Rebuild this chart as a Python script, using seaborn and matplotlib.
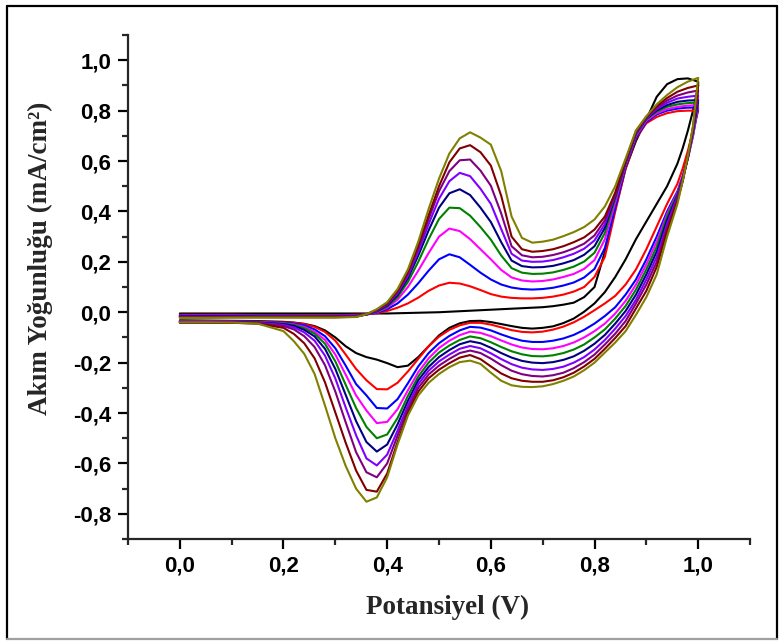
import pandas as pd
import matplotlib
matplotlib.use("Agg")
import matplotlib.pyplot as plt
import seaborn as sns
from matplotlib.ticker import MultipleLocator, FuncFormatter
from matplotlib.lines import Line2D

# potential grid for the anodic (forward) and cathodic (reverse) sweeps, V
V_FWD = [0.00, 0.05, 0.10, 0.15, 0.20, 0.25, 0.30, 0.34, 0.36, 0.38, 0.40,
         0.42, 0.44, 0.46, 0.48, 0.50, 0.52, 0.54, 0.56, 0.58, 0.60, 0.62,
         0.64, 0.66, 0.68, 0.70, 0.72, 0.74, 0.76, 0.78, 0.80, 0.82, 0.84,
         0.86, 0.88, 0.90, 0.92, 0.94, 0.96, 0.98, 1.00]
V_REV = [1.00, 0.99, 0.98, 0.97, 0.96, 0.94, 0.92, 0.90, 0.88, 0.86, 0.84,
         0.82, 0.80, 0.78, 0.76, 0.74, 0.72, 0.70, 0.68, 0.66, 0.64, 0.62,
         0.60, 0.58, 0.56, 0.54, 0.52, 0.50, 0.48, 0.46, 0.44, 0.42, 0.40,
         0.38, 0.36, 0.34, 0.32, 0.30, 0.28, 0.26, 0.24, 0.22, 0.20, 0.15,
         0.10, 0.05, 0.00]

# current density, mA/cm2, one list per cycle
black_fwd = [-0.005, -0.005, -0.005, -0.005, -0.005, -0.005, -0.005, -0.005, -0.005, -0.005, -0.005,
             -0.004, -0.003, -0.002, -0.001, 0.000, 0.002, 0.004, 0.006, 0.008, 0.010, 0.012,
             0.014, 0.016, 0.018, 0.020, 0.024, 0.030, 0.038, 0.060, 0.100, 0.240, 0.410,
             0.570, 0.680, 0.765, 0.855, 0.905, 0.925, 0.928, 0.915]
red_fwd = [-0.010, -0.010, -0.010, -0.011, -0.011, -0.012, -0.012, -0.010, -0.008, -0.004, 0.005,
           0.018, 0.035, 0.058, 0.085, 0.106, 0.117, 0.114, 0.103, 0.088, 0.072, 0.062,
           0.057, 0.055, 0.055, 0.057, 0.062, 0.070, 0.082, 0.100, 0.140, 0.220, 0.400,
           0.570, 0.690, 0.750, 0.775, 0.790, 0.798, 0.800, 0.800]
blue_fwd = [-0.012, -0.012, -0.012, -0.013, -0.013, -0.014, -0.014, -0.012, -0.009, -0.002, 0.012,
            0.035, 0.070, 0.115, 0.165, 0.210, 0.230, 0.218, 0.188, 0.157, 0.130, 0.110,
            0.098, 0.092, 0.090, 0.092, 0.097, 0.106, 0.118, 0.138, 0.172, 0.255, 0.415,
            0.578, 0.694, 0.755, 0.785, 0.800, 0.808, 0.812, 0.812]
magenta_fwd = [-0.013, -0.013, -0.013, -0.014, -0.014, -0.015, -0.015, -0.013, -0.009, 0.000, 0.018,
               0.050, 0.100, 0.165, 0.235, 0.300, 0.332, 0.322, 0.290, 0.250, 0.210, 0.168,
               0.138, 0.126, 0.122, 0.124, 0.130, 0.140, 0.152, 0.172, 0.207, 0.290, 0.435,
               0.585, 0.700, 0.760, 0.790, 0.806, 0.815, 0.820, 0.822]
green_fwd = [-0.015, -0.015, -0.015, -0.015, -0.016, -0.016, -0.016, -0.014, -0.009, 0.002, 0.022,
             0.060, 0.120, 0.200, 0.290, 0.370, 0.415, 0.413, 0.383, 0.338, 0.288, 0.225,
             0.175, 0.157, 0.152, 0.153, 0.158, 0.168, 0.181, 0.201, 0.236, 0.315, 0.450,
             0.590, 0.705, 0.765, 0.796, 0.815, 0.825, 0.830, 0.832]
navy_fwd = [-0.016, -0.016, -0.016, -0.017, -0.017, -0.017, -0.017, -0.015, -0.009, 0.004, 0.026,
            0.068, 0.135, 0.225, 0.325, 0.415, 0.472, 0.488, 0.465, 0.415, 0.358, 0.278,
            0.205, 0.183, 0.178, 0.179, 0.184, 0.194, 0.207, 0.228, 0.262, 0.335, 0.460,
            0.595, 0.710, 0.768, 0.801, 0.822, 0.835, 0.840, 0.842]
violet_fwd = [-0.018, -0.018, -0.018, -0.018, -0.018, -0.018, -0.018, -0.016, -0.009, 0.006, 0.030,
              0.075, 0.145, 0.240, 0.350, 0.450, 0.520, 0.553, 0.540, 0.490, 0.430, 0.330,
              0.232, 0.205, 0.200, 0.201, 0.207, 0.218, 0.232, 0.252, 0.285, 0.350, 0.465,
              0.598, 0.712, 0.770, 0.806, 0.831, 0.848, 0.855, 0.860]
purple_fwd = [-0.019, -0.019, -0.019, -0.019, -0.019, -0.019, -0.019, -0.017, -0.009, 0.008, 0.033,
              0.080, 0.155, 0.255, 0.370, 0.480, 0.560, 0.603, 0.606, 0.562, 0.502, 0.392,
              0.262, 0.226, 0.218, 0.220, 0.227, 0.238, 0.253, 0.272, 0.305, 0.365, 0.470,
              0.600, 0.715, 0.772, 0.812, 0.840, 0.860, 0.872, 0.880]
maroon_fwd = [-0.021, -0.021, -0.020, -0.020, -0.020, -0.020, -0.020, -0.018, -0.008, 0.010, 0.036,
              0.085, 0.160, 0.265, 0.385, 0.500, 0.595, 0.650, 0.663, 0.635, 0.582, 0.462,
              0.300, 0.250, 0.240, 0.243, 0.250, 0.262, 0.278, 0.297, 0.328, 0.380, 0.475,
              0.602, 0.718, 0.775, 0.818, 0.850, 0.875, 0.890, 0.900]
olive_fwd = [-0.022, -0.022, -0.021, -0.021, -0.021, -0.021, -0.021, -0.019, -0.008, 0.012, 0.040,
             0.092, 0.170, 0.280, 0.410, 0.530, 0.630, 0.690, 0.714, 0.693, 0.665, 0.560,
             0.380, 0.295, 0.276, 0.280, 0.288, 0.302, 0.318, 0.338, 0.368, 0.420, 0.500,
             0.610, 0.722, 0.778, 0.825, 0.862, 0.893, 0.915, 0.930]

black_rev = [0.900, 0.800, 0.720, 0.650, 0.590, 0.500, 0.430, 0.360, 0.290, 0.210, 0.140,
             0.080, 0.035, 0.002, -0.025, -0.043, -0.056, -0.062, -0.065, -0.062, -0.055, -0.047,
             -0.039, -0.034, -0.035, -0.044, -0.062, -0.092, -0.135, -0.178, -0.212, -0.218, -0.202,
             -0.188, -0.178, -0.162, -0.135, -0.100, -0.072, -0.055, -0.046, -0.041, -0.038, -0.035,
             -0.034, -0.033, -0.032]
red_rev = [0.800, 0.720, 0.640, 0.570, 0.510, 0.430, 0.340, 0.250, 0.170, 0.110, 0.065,
           0.035, 0.008, -0.018, -0.040, -0.057, -0.069, -0.077, -0.080, -0.078, -0.071, -0.060,
           -0.049, -0.042, -0.042, -0.052, -0.070, -0.097, -0.135, -0.185, -0.235, -0.280, -0.306,
           -0.305, -0.270, -0.225, -0.168, -0.113, -0.078, -0.058, -0.047, -0.042, -0.040, -0.037,
           -0.036, -0.035, -0.035]
blue_rev = [0.812, 0.700, 0.610, 0.540, 0.480, 0.400, 0.300, 0.210, 0.130, 0.070, 0.020,
            -0.015, -0.045, -0.070, -0.090, -0.104, -0.113, -0.118, -0.118, -0.113, -0.102, -0.088,
            -0.072, -0.061, -0.058, -0.072, -0.094, -0.123, -0.162, -0.215, -0.282, -0.345, -0.382,
            -0.380, -0.330, -0.285, -0.212, -0.143, -0.095, -0.068, -0.052, -0.045, -0.042, -0.038,
            -0.037, -0.036, -0.036]
magenta_rev = [0.822, 0.700, 0.610, 0.535, 0.475, 0.390, 0.280, 0.190, 0.110, 0.045, -0.005,
               -0.045, -0.075, -0.100, -0.120, -0.134, -0.143, -0.147, -0.146, -0.140, -0.128, -0.112,
               -0.095, -0.082, -0.077, -0.091, -0.113, -0.142, -0.183, -0.238, -0.310, -0.385, -0.435,
               -0.440, -0.390, -0.330, -0.248, -0.168, -0.110, -0.077, -0.058, -0.048, -0.044, -0.039,
               -0.038, -0.037, -0.037]
green_rev = [0.832, 0.710, 0.610, 0.530, 0.470, 0.380, 0.260, 0.170, 0.090, 0.025, -0.025,
             -0.068, -0.100, -0.128, -0.148, -0.162, -0.171, -0.175, -0.174, -0.167, -0.155, -0.138,
             -0.119, -0.103, -0.096, -0.110, -0.132, -0.160, -0.200, -0.255, -0.332, -0.420, -0.485,
             -0.500, -0.455, -0.380, -0.288, -0.195, -0.125, -0.085, -0.063, -0.050, -0.045, -0.040,
             -0.039, -0.038, -0.038]
navy_rev = [0.842, 0.720, 0.615, 0.530, 0.465, 0.365, 0.240, 0.150, 0.070, 0.005, -0.045,
            -0.090, -0.125, -0.153, -0.175, -0.189, -0.198, -0.202, -0.200, -0.193, -0.180, -0.162,
            -0.141, -0.123, -0.115, -0.127, -0.150, -0.178, -0.217, -0.270, -0.352, -0.445, -0.525,
            -0.553, -0.515, -0.432, -0.328, -0.225, -0.145, -0.096, -0.070, -0.054, -0.047, -0.041,
            -0.040, -0.039, -0.039]
violet_rev = [0.860, 0.725, 0.615, 0.525, 0.460, 0.350, 0.220, 0.130, 0.050, -0.015, -0.065,
              -0.110, -0.148, -0.178, -0.200, -0.216, -0.225, -0.229, -0.227, -0.220, -0.206, -0.186,
              -0.163, -0.143, -0.134, -0.145, -0.168, -0.195, -0.232, -0.285, -0.370, -0.470, -0.565,
              -0.608, -0.580, -0.488, -0.378, -0.263, -0.172, -0.113, -0.080, -0.060, -0.050, -0.042,
              -0.041, -0.040, -0.040]
purple_rev = [0.880, 0.730, 0.615, 0.520, 0.450, 0.335, 0.200, 0.110, 0.035, -0.035, -0.085,
              -0.128, -0.168, -0.198, -0.222, -0.240, -0.250, -0.255, -0.253, -0.246, -0.232, -0.210,
              -0.184, -0.162, -0.152, -0.162, -0.185, -0.212, -0.247, -0.300, -0.385, -0.490, -0.600,
              -0.655, -0.635, -0.555, -0.437, -0.315, -0.210, -0.138, -0.095, -0.068, -0.055, -0.044,
              -0.042, -0.041, -0.041]
maroon_rev = [0.900, 0.735, 0.618, 0.520, 0.440, 0.320, 0.180, 0.085, 0.015, -0.055, -0.102,
              -0.145, -0.185, -0.215, -0.240, -0.258, -0.270, -0.276, -0.276, -0.272, -0.262, -0.243,
              -0.215, -0.186, -0.170, -0.180, -0.202, -0.228, -0.262, -0.315, -0.400, -0.515, -0.640,
              -0.712, -0.705, -0.628, -0.518, -0.398, -0.278, -0.183, -0.123, -0.086, -0.062, -0.045,
              -0.042, -0.041, -0.041]
olive_rev = [0.930, 0.740, 0.620, 0.520, 0.430, 0.300, 0.150, 0.060, -0.010, -0.075, -0.120,
             -0.160, -0.200, -0.230, -0.255, -0.272, -0.285, -0.294, -0.297, -0.296, -0.290, -0.272,
             -0.240, -0.205, -0.192, -0.198, -0.218, -0.245, -0.280, -0.330, -0.410, -0.525, -0.655,
             -0.735, -0.752, -0.700, -0.610, -0.500, -0.370, -0.245, -0.165, -0.115, -0.075, -0.045,
             -0.041, -0.040, -0.040]

CYCLES = ["1", "2", "3", "4", "5", "6", "7", "8", "9", "10"]
FWD = [black_fwd, red_fwd, blue_fwd, magenta_fwd, green_fwd,
       navy_fwd, violet_fwd, purple_fwd, maroon_fwd, olive_fwd]
REV = [black_rev, red_rev, blue_rev, magenta_rev, green_rev,
       navy_rev, violet_rev, purple_rev, maroon_rev, olive_rev]
PALETTE = ["#000000", "#ff0000", "#0000ff", "#ff00ff", "#008000",
           "#000080", "#8000ff", "#800080", "#800000", "#808000"]

rows = []
for name, f, r in zip(CYCLES, FWD, REV):
    assert len(f) == len(V_FWD) and len(r) == len(V_REV), name
    for v, i in zip(V_FWD + V_REV, f + r):
        rows.append((name, v, i))
df = pd.DataFrame(rows, columns=["cycle", "potential", "current"])

sns.set_style("ticks")
plt.rcParams["font.family"] = ["Liberation Sans", "DejaVu Sans"]
plt.rcParams["font.weight"] = "bold"

fig = plt.figure(figsize=(7.79, 6.44), dpi=100)
ax = fig.add_axes([0.1643, 0.1630, 0.7985, 0.7826])

sns.lineplot(data=df, x="potential", y="current", hue="cycle", palette=PALETTE,
             sort=False, estimator=None, legend=False, linewidth=1.5, ax=ax)
for ln in ax.get_lines():
    ln.set_solid_joinstyle("round")

ax.set_xlim(-0.1, 1.1)
ax.set_ylim(-0.9, 1.1)
ax.xaxis.set_major_locator(MultipleLocator(0.2))
ax.xaxis.set_minor_locator(MultipleLocator(0.1))
ax.yaxis.set_major_locator(MultipleLocator(0.2))
ax.yaxis.set_minor_locator(MultipleLocator(0.1))


def comma(v, pos):
    if abs(v) < 1e-9:
        v = 0.0
    return f"{v:.1f}".replace(".", ",")


ax.xaxis.set_major_formatter(FuncFormatter(comma))
ax.yaxis.set_major_formatter(FuncFormatter(comma))

for side in ["top", "right"]:
    ax.spines[side].set_visible(False)
for side in ["left", "bottom"]:
    ax.spines[side].set_linewidth(1.6)
ax.tick_params(which="major", direction="out", length=7, width=1.6,
               labelsize=16, pad=5, colors="black")
ax.tick_params(which="minor", direction="out", length=4, width=1.6)

ax.set_xlabel("Potansiyel (V)", fontfamily="Liberation Serif", fontsize=19.5,
              fontweight="bold")
ax.set_ylabel("Akım Yoğunluğu (mA/cm²)", fontfamily="Liberation Serif",
              fontsize=19.5, fontweight="bold")
ax.xaxis.label.set_va("center")
ax.yaxis.label.set_va("center")
ax.xaxis.set_label_coords(0.513, -0.135)
ax.yaxis.set_label_coords(-0.1415, 0.556)

# outer frame of the picture
frame = dict(transform=fig.transFigure, color="black", linewidth=1.6)
fig.add_artist(Line2D([0.009, 0.009], [0.008, 0.991], **frame))
fig.add_artist(Line2D([0.009, 0.997], [0.991, 0.991], **frame))
fig.add_artist(Line2D([0.997, 0.997], [0.008, 0.991], **frame))
fig.add_artist(Line2D([0.009, 0.997], [0.008, 0.008], transform=fig.transFigure,
                      color="#a0a0a0", linewidth=1.6))

fig.savefig("out.png", dpi=100)
